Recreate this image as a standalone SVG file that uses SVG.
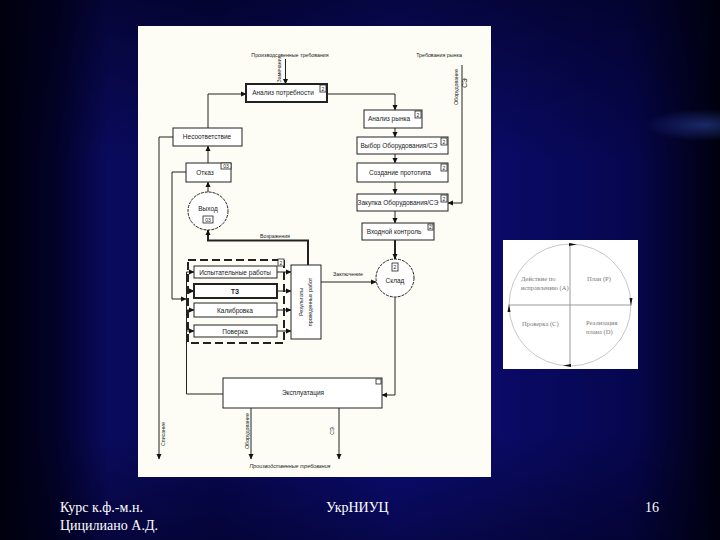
<svg xmlns="http://www.w3.org/2000/svg" width="720" height="540" viewBox="0 0 720 540">
<defs>
<linearGradient id="bg" x1="0" y1="0" x2="1" y2="0">
<stop offset="0" stop-color="#00000c"/>
<stop offset="0.08" stop-color="#02022a"/>
<stop offset="0.15" stop-color="#0a0a5e"/>
<stop offset="0.3" stop-color="#070752"/>
<stop offset="0.55" stop-color="#0c0c78"/>
<stop offset="0.7" stop-color="#0a0a66"/>
<stop offset="0.88" stop-color="#06064e"/>
<stop offset="1" stop-color="#00000e"/>
</linearGradient>
<linearGradient id="vg" x1="0" y1="0" x2="0" y2="1">
<stop offset="0" stop-color="#000010" stop-opacity="0.5"/>
<stop offset="0.3" stop-color="#000010" stop-opacity="0"/>
<stop offset="0.8" stop-color="#000010" stop-opacity="0"/>
<stop offset="1" stop-color="#000010" stop-opacity="0.4"/>
</linearGradient>
<radialGradient id="glow" cx="0.5" cy="0.5" r="0.5">
<stop offset="0" stop-color="#3a5ac8" stop-opacity="0.45"/>
<stop offset="1" stop-color="#3a5ac8" stop-opacity="0"/>
</radialGradient>
<marker id="ah" markerWidth="6" markerHeight="6" refX="5" refY="3" orient="auto" markerUnits="userSpaceOnUse">
<path d="M0,0.5 L5.5,3 L0,5.5 z" fill="#111"/>
</marker>
</defs>
<style>
.box{fill:#fff;stroke:#222;stroke-width:1}
.thick{stroke-width:2}
.t{font-family:"Liberation Sans",Arial,sans-serif;font-size:6.5px;fill:#222;text-anchor:middle}
.s{font-size:5.3px}
.ln{fill:none;stroke:#222;stroke-width:1}
.lnt{fill:none;stroke:#222;stroke-width:2}
.ico{fill:#fff;stroke:#222;stroke-width:0.8}
.ic{font-family:"Liberation Sans",Arial,sans-serif;font-size:5px;fill:#222;text-anchor:middle}
.foot{font-family:"Liberation Serif","Times New Roman",serif;font-size:14px;fill:#ffffff}
.pd{font-family:"Liberation Serif","Times New Roman",serif;font-size:6.5px;fill:#777}
</style>
<rect width="720" height="540" fill="url(#bg)"/>
<rect width="720" height="540" fill="url(#vg)"/>
<ellipse cx="705" cy="125" rx="60" ry="16" fill="url(#glow)"/>
<rect x="138" y="26" width="353" height="451" fill="#fdfdf6"/>

<g id="connectors">
<path class="ln" d="M285.5,59 V84" marker-end="url(#ah)"/>
<path class="ln" d="M327,94 H395 V110" marker-end="url(#ah)"/>
<path class="ln" d="M208,128 V94 H246" marker-end="url(#ah)"/>
<path class="ln" d="M395,128 V137" marker-end="url(#ah)"/>
<path class="ln" d="M395,154 V163" marker-end="url(#ah)"/>
<path class="ln" d="M395,182 V194" marker-end="url(#ah)"/>
<path class="ln" d="M395,211 V223" marker-end="url(#ah)"/>
<path class="lnt" d="M395,240 V259" marker-end="url(#ah)"/>
<path class="ln" d="M462,65 V203 H448" marker-end="url(#ah)"/>
<path class="ln" d="M208,163 V146" marker-end="url(#ah)"/>
<path class="ln" d="M208,192 V182" marker-end="url(#ah)"/>
<path class="lnt" d="M308,265 V240.5 H208 V230" marker-end="url(#ah)"/>
<path class="ln" d="M173,137 H159 V459" marker-end="url(#ah)"/>
<path class="ln" d="M186,172 H172 V299 H186" marker-end="url(#ah)"/>
<path class="ln" d="M223,394 H186.5 V272 H194" marker-end="url(#ah)"/>
<path class="ln" d="M186.5,291 H194" marker-end="url(#ah)"/>
<path class="ln" d="M186.5,310 H194" marker-end="url(#ah)"/>
<path class="ln" d="M186.5,331 H194" marker-end="url(#ah)"/>
<path class="ln" d="M277,272 H291" marker-end="url(#ah)"/>
<path class="ln" d="M277,291 H291" marker-end="url(#ah)"/>
<path class="ln" d="M277,310 H291" marker-end="url(#ah)"/>
<path class="ln" d="M277,331 H291" marker-end="url(#ah)"/>
<path class="ln" d="M321,282 H376" marker-end="url(#ah)"/>
<path class="ln" d="M395,297 V395 H382" marker-end="url(#ah)"/>
<path class="ln" d="M251,408 V459" marker-end="url(#ah)"/>
<path class="ln" d="M339,408 V459" marker-end="url(#ah)"/>
<text class="t s" x="290" y="57">Производственные требования</text>
<text class="t s" transform="translate(281,69) rotate(-90)">Замечания</text>
<text class="t s" x="439" y="57">Требования рынка</text>
<text class="t s" transform="translate(458,87) rotate(-90)">Оборудование</text>
<text class="t" transform="translate(467,83) rotate(-90)">СЭ</text>
<text class="t s" x="275" y="238">Возражения</text>
<text class="t s" x="348" y="276">Заключение</text>
<text class="t s" transform="translate(165,434) rotate(-90)">Списание</text>
<text class="t s" transform="translate(249,431) rotate(-90)">Оборудование</text>
<text class="t s" transform="translate(334,431) rotate(-90)">СЭ</text>
<text class="t s" x="290" y="468" font-style="italic">Производственные требования</text>
</g>

<g id="n-analiz-potr">
<rect class="box thick" x="246" y="84" width="81" height="18"/>
<rect class="ico" x="320" y="85" width="6" height="7"/><text class="ic" x="323" y="90.5">2</text>
<text class="t" x="283" y="95">Анализ потребности</text>
</g>
<g id="n-analiz-rynka">
<rect class="box" x="364" y="110" width="58" height="18"/>
<rect class="ico" x="415" y="111" width="6" height="7"/><text class="ic" x="418" y="116.5">2</text>
<text class="t" x="389" y="121">Анализ рынка</text>
</g>
<g id="n-nesootv">
<rect class="box" x="173" y="128" width="69" height="18"/>
<text class="t" x="207" y="139">Несоответствие</text>
</g>
<g id="n-vybor">
<rect class="box" x="357" y="137" width="91" height="17"/>
<rect class="ico" x="441" y="138" width="6" height="7"/><text class="ic" x="444" y="143.5">2</text>
<text class="t" x="399" y="148">Выбор Оборудования/СЭ</text>
</g>
<g id="n-otkaz">
<rect class="box" x="186" y="163" width="45" height="19"/>
<rect class="ico" x="221" y="163" width="10" height="6"/><text class="ic" x="226" y="168">03</text>
<text class="t" x="205" y="175">Отказ</text>
</g>
<g id="n-sozdanie">
<rect class="box" x="357" y="163" width="91" height="19"/>
<rect class="ico" x="441" y="164" width="6" height="7"/><text class="ic" x="444" y="169.5">2</text>
<text class="t" x="400" y="175">Создание прототипа</text>
</g>
<g id="n-vyhod">
<ellipse cx="208" cy="211" rx="20" ry="19" fill="#fff" stroke="#222" stroke-width="1" stroke-dasharray="3 1"/>
<text class="t" x="208" y="211">Выход</text>
<rect class="ico" x="203" y="216" width="10" height="7"/><text class="ic" x="208" y="221.5">03</text>
</g>
<g id="n-zakupka">
<rect class="box" x="357" y="194" width="91" height="17"/>
<rect class="ico" x="441" y="195" width="6" height="7"/><text class="ic" x="444" y="200.5">2</text>
<text class="t" x="398" y="205">Закупка Оборудования/СЭ</text>
</g>
<g id="n-vhodnoy">
<rect class="box" x="362" y="223" width="72" height="17"/>
<rect class="ico" x="428" y="224" width="5" height="6"/><text class="ic" x="430.5" y="229">2</text>
<text class="t" x="394" y="234">Входной контроль</text>
</g>
<g id="n-gruppa">
<rect x="188" y="260" width="96" height="83" fill="none" stroke="#222" stroke-width="2" stroke-dasharray="8 4"/>
<rect class="ico" x="278" y="259" width="6" height="7"/><text class="ic" x="281" y="264.5">2</text>
</g>
<g id="n-ispytaniya">
<rect class="box" x="194" y="266" width="83" height="12"/>
<text class="t" x="235" y="274.5">Испытательные работы</text>
</g>
<g id="n-tz">
<rect class="box thick" x="194" y="284" width="83" height="14"/>
<text class="t" x="235" y="293.5" font-weight="bold">ТЗ</text>
</g>
<g id="n-kalibrovka">
<rect class="box" x="194" y="303" width="83" height="14"/>
<text class="t" x="235" y="312.5">Калибровка</text>
</g>
<g id="n-poverka">
<rect class="box" x="194" y="325" width="83" height="12"/>
<text class="t" x="235" y="333.5">Поверка</text>
</g>
<g id="n-rezultaty">
<rect class="box" x="291" y="265" width="30" height="74"/>
<text class="t s" transform="translate(303,302) rotate(-90)">Результаты</text>
<text class="t s" transform="translate(312,302) rotate(-90)">проведенных работ</text>
</g>
<g id="n-sklad">
<circle cx="395" cy="278" r="19" fill="#fff" stroke="#222" stroke-width="1" stroke-dasharray="3 1"/>
<rect class="ico" x="392" y="263" width="6" height="8"/><text class="ic" x="395" y="269">2</text>
<text class="t" x="395" y="283">Склад</text>
</g>
<g id="n-ekspluatatsiya">
<rect class="box" x="223" y="378" width="159" height="30"/>
<rect class="ico" x="376" y="379" width="5" height="5"/>
<text class="t" x="303" y="395">Эксплуатация</text>
</g>

<g id="pdca">
<rect x="503" y="240" width="135" height="129" fill="#ffffff"/>
<circle cx="570" cy="305" r="61" fill="none" stroke="#c8c8c8" stroke-width="1"/>
<path d="M570,244 V366 M509,305 H631" stroke="#9a9a9a" stroke-width="1" fill="none"/>
<path d="M569,243 L577,244.5 L569,246 z" fill="#111"/>
<path d="M629.5,298 L631,306 L632.5,298 z" fill="#111"/>
<path d="M571,364 L563,365.5 L571,367 z" fill="#111"/>
<path d="M507.5,312 L509,304 L510.5,312 z" fill="#111"/>
<text class="pd" x="521" y="281">Действие по</text>
<text class="pd" x="521" y="290">исправлению (A)</text>
<text class="pd" x="587" y="281">План (P)</text>
<text class="pd" x="522" y="326">Проверка (C)</text>
<text class="pd" x="586" y="325">Реализация</text>
<text class="pd" x="586" y="334">плана (D)</text>
</g>

<g id="footer">
<text class="foot" x="60" y="512">Курс к.ф.-м.н.</text>
<text class="foot" x="60" y="530">Цицилиано А.Д.</text>
<text class="foot" x="326" y="512">УкрНИУЦ</text>
<text class="foot" x="645" y="512">16</text>
</g>
</svg>
